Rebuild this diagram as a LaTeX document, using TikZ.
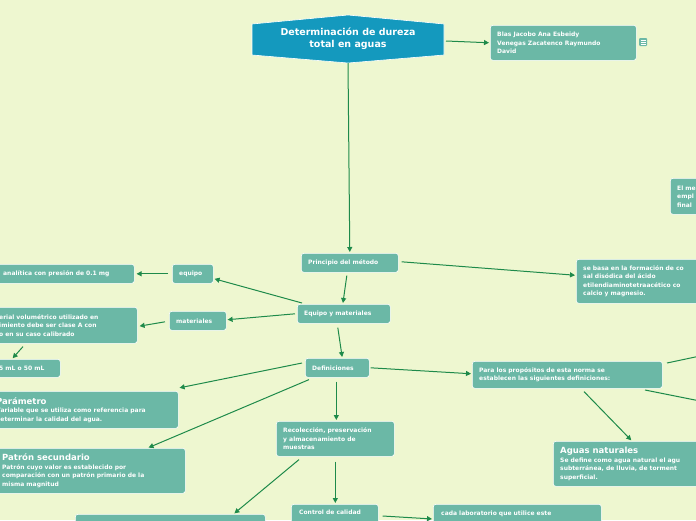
\documentclass[tikz,border=0pt]{standalone}
\usepackage{fontspec}
\setmainfont{DejaVu Sans}
\usepackage{tikz}
\usetikzlibrary{arrows.meta}
\definecolor{bgc}{HTML}{EEF7D0}
\definecolor{boxc}{HTML}{6BB8A6}
\definecolor{topc}{HTML}{1499BE}
\definecolor{linec}{HTML}{1E8A4A}
\tikzset{
  box/.style={fill=boxc, draw=white, line width=0.6pt, rounded corners=2.5pt, text=white,
    font=\fontsize{6}{8.5}\selectfont\bfseries, anchor=north west, align=left, inner sep=0pt},
  conn/.style={draw=linec, line width=1pt, -{Triangle[length=5pt,width=5pt]}, shorten >=1pt},
  bigt/.style={font=\fontsize{8.5}{10}\selectfont\bfseries}
}
\newcommand{\bx}[6]{% name, x, y, w, h, text
  \node[box, minimum width=#4pt, minimum height=#5pt] (#1) at (#2,#3) {};
  \node[text=white, font=\fontsize{6}{8.5}\selectfont\bfseries, align=left, anchor=west, inner sep=0pt] at ([xshift=7pt]#1.west) {#6};}
\begin{document}
\begin{tikzpicture}[x=1pt,y=1pt,yscale=-1]
\fill[bgc] (0,0) rectangle (696,520);
\useasboundingbox (0,0) rectangle (696,520);
\clip (0,0) rectangle (696,520);

% title
\draw[fill=topc, draw=white, line width=0.6pt] (252,24) -- (348,15) -- (444,24) -- (444,55) -- (348,63) -- (252,55) -- cycle;
\node[text=white, font=\fontsize{9.5}{12}\selectfont\bfseries, align=center] (title) at (348,39) {Determinación de dureza\\total en aguas};
\coordinate (tbot) at (348,63);
\coordinate (tright) at (446,41);

% boxes
\bx{author}{490}{25}{146}{35}{Blas Jacobo Ana Esbeidy\\Venegas Zacatenco Raymundo\\David}
\node[fill=boxc, rounded corners=1pt, minimum size=8pt, inner sep=0pt] (icon) at (643,42) {};
\foreach \dy in {-2,0,2} \draw[white, line width=0.6pt] (640.5,42+\dy) -- (645.5,42+\dy);

\bx{principio}{301}{253}{97}{19}{Principio del método}
\bx{equipomat}{297}{304}{93}{19}{Equipo y materiales}
\bx{equipo}{172}{264}{41}{19}{equipo}
\bx{balanza}{-20}{264}{154}{19}{\hspace{16pt}analítica con presión de 0.1 mg}
\bx{materiales}{169}{311}{57}{19}{materiales}
\bx{material}{-20}{307}{157}{36}{\hspace{12pt}erial volumétrico utilizado en\\\hspace{12pt}imiento debe ser clase A con\\\hspace{12pt}o en su caso calibrado}
\bx{volumen}{-20}{359}{80}{18}{\hspace{12pt}5 mL o 50 mL}
\bx{definiciones}{305}{358}{64}{19}{Definiciones}
\bx{parametro}{-20}{391}{198}{37}{\hspace{9pt}{\fontsize{8.5}{10}\selectfont Parámetro}\\\hspace{9pt}Variable que se utiliza como referencia para\\\hspace{9pt}determinar la calidad del agua.}
\bx{patron}{-20}{448}{205}{45}{\hspace{15pt}{\fontsize{8.5}{10}\selectfont Patrón secundario}\\\hspace{15pt}Patrón cuyo valor es establecido por\\\hspace{15pt}comparación con un patrón primario de la\\\hspace{15pt}misma magnitud}
\bx{recoleccion}{276}{421}{118}{35}{Recolección, preservación\\y almacenamiento de\\muestras}
\node[box, minimum width=87pt, minimum height=30pt] (control) at (291,504) {};
\node[text=white, font=\fontsize{6}{8.5}\selectfont\bfseries, anchor=north west, inner sep=0pt] at (299,510) {Control de calidad};
\node[box, minimum width=190pt, minimum height=30pt] (bottom) at (75,514) {};
\node[box, minimum width=168pt, minimum height=30pt] (cada) at (433,504) {};
\node[text=white, font=\fontsize{6}{8.5}\selectfont\bfseries, anchor=north west, inner sep=0pt] at (441,511) {cada laboratorio que utilice este};
\bx{sebasa}{576}{259}{140}{44}{se basa en la formación de co\\sal disódica del ácido\\etilendiaminotetraacético co\\calcio y magnesio.}
\bx{elme}{670}{178}{40}{36}{El me\\empl\\final}
\bx{para}{472}{361}{190}{27}{Para los propósitos de esta norma se\\establecen las siguientes definiciones:}
\bx{aguas}{553}{441}{160}{45}{{\fontsize{8.5}{10}\selectfont Aguas naturales}\\Se define como agua natural el agu\\subterránea, de lluvia, de torment\\superficial.}
\coordinate (off1) at (700,356);
\coordinate (off2) at (700,401);
\coordinate (pa1) at (667,363);
\coordinate (pa2) at (645,390);

% connectors
\draw[conn] (tbot) -- (principio.north);
\draw[conn] (tright) -- (author.west);
\draw[conn] ([xshift=-3pt,yshift=3pt]principio.south) -- ([xshift=-1pt]equipomat.north);
\draw[conn] ([yshift=-1pt,xshift=3pt]principio.east) -- ([yshift=-6pt]sebasa.west);
\draw[conn] ([xshift=5pt,yshift=-1pt]equipomat.north west) -- ([yshift=-5pt]equipo.south east);
\draw[conn] ([xshift=-2pt]equipomat.west) -- ([yshift=-1pt]materiales.east);
\draw[conn] ([xshift=-4pt]equipo.west) -- ([xshift=1pt]balanza.east);
\draw[conn] ([xshift=-4pt,yshift=1pt]materiales.west) -- ([xshift=1pt,yshift=1pt]material.east);
\draw[conn] ([xshift=43pt,yshift=3pt]material.south west) -- ([xshift=32pt]volumen.north west);
\draw[conn] ([xshift=-6pt,yshift=4pt]equipomat.south) -- ([xshift=5pt]definiciones.north);
\draw[conn] ([xshift=-3pt,yshift=5pt]definiciones.north west) -- ([yshift=-3pt]parametro.north east);
\draw[conn] ([xshift=4pt,yshift=2pt]definiciones.south west) -- ([xshift=-38pt]patron.north east);
\draw[conn] ([xshift=-1pt,yshift=4pt]definiciones.south) -- ([xshift=1pt]recoleccion.north);
\draw[conn] ([xshift=1pt]definiciones.east) -- ([yshift=-1pt]para.west);
\draw[conn] ([xshift=23pt,yshift=3pt]recoleccion.south west) -- ([xshift=-32pt]bottom.north east);
\draw[conn] ([yshift=5pt]recoleccion.south) -- ([xshift=0.5pt]control.north);
\draw[conn] ([xshift=4pt,yshift=12pt]control.north east) -- ([yshift=15pt]cada.north west);
\draw[conn] ([xshift=112pt,yshift=3pt]para.south west) -- ([xshift=79pt]aguas.north west);
\draw[draw=linec, line width=1pt] (pa1) -- (off1);
\draw[draw=linec, line width=1pt] (pa2) -- (off2);
\end{tikzpicture}
\end{document}
